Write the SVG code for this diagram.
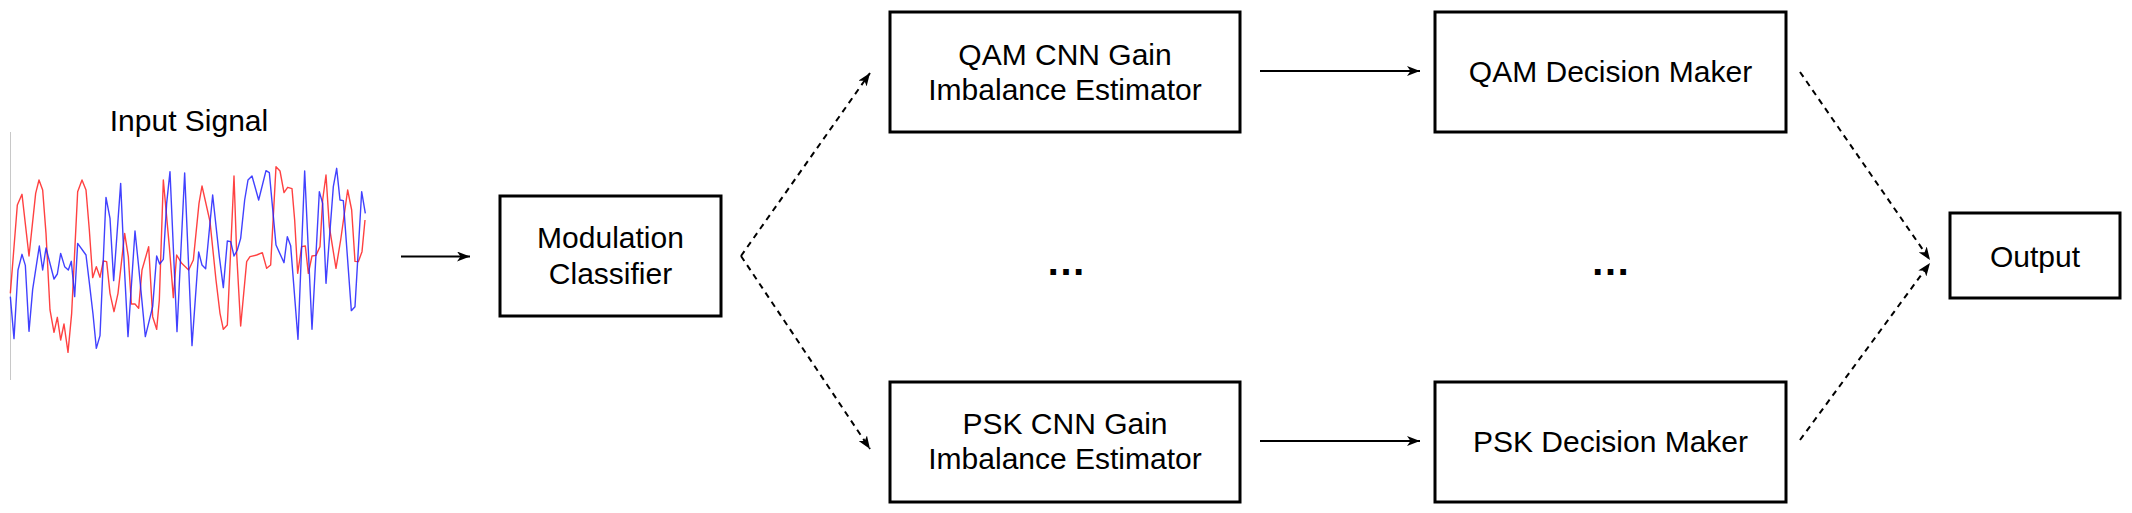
<svg xmlns="http://www.w3.org/2000/svg" width="2132" height="513" viewBox="0 0 2132 513">
<style>
.box{fill:#fff;stroke:#000;stroke-width:3}
.t{font-family:"Liberation Sans",Arial,sans-serif;font-size:30px;fill:#000;text-anchor:middle}
.el{font-family:"Liberation Sans",Arial,sans-serif;font-size:40px;font-weight:bold;fill:#000;text-anchor:middle}
.solid{fill:none;stroke:#000;stroke-width:2}
.dash{fill:none;stroke:#000;stroke-width:2;stroke-dasharray:6 5}
.sig{fill:none;stroke-width:1.4;stroke-linejoin:round;vector-effect:non-scaling-stroke}
</style>
<defs>
<marker id="arr" markerUnits="userSpaceOnUse" markerWidth="14" markerHeight="10" refX="13" refY="5" orient="auto">
<path d="M0,0 L13,5 L0,10 L3.5,5 Z" fill="#000"/>
</marker>
</defs>
<rect width="2132" height="513" fill="#fff"/>
<g id="input-signal">
<text class="t" x="189" y="131">Input Signal</text>
<line x1="10.5" y1="132" x2="10.5" y2="380" stroke="#c8c8c8" stroke-width="1"/>
<g transform="translate(0,100) scale(0.33333)">
<polyline class="sig" stroke="#ff2020" stroke-opacity="0.85" points="31,580 52,315 66,283 87,468 107,280 117,240 128,270 138,400 150,630 162,697 172,652 182,720 192,672 204,757 215,640 233,275 246,240 258,270 268,390 278,533 289,500 300,532 310,483 320,485 330,580 342,635 354,580 374,400 385,470 394,612 405,612 416,625 426,510 446,440 458,650 470,688 478,600 490,240 508,440 520,593 530,465 545,490 566,510 580,480 597,310 606,258 630,365 648,540 660,640 670,688 682,675 702,228 710,460 722,678 740,485 750,470 770,465 787,458 800,505 812,495 828,200 840,213 852,278 863,262 876,266 884,360 893,520 905,440 916,438 925,520 936,468 948,466 960,440 968,300 978,225 988,380 1008,505 1022,420 1043,270 1055,330 1065,484 1075,485 1086,455 1095,360"/>
<polyline class="sig" stroke="#2020ff" stroke-opacity="0.85" points="31,590 42,716 54,510 66,463 76,496 87,694 98,568 118,438 128,510 138,444 162,537 172,522 182,460 194,500 205,510 214,484 224,590 233,430 258,465 268,548 279,642 289,745 300,707 318,292 330,355 341,542 362,250 373,500 384,710 405,393 416,500 436,710 458,620 470,468 479,492 490,478 500,310 510,215 531,695 554,219 576,737 596,456 606,495 617,506 638,285 658,470 670,563 682,423 692,425 702,468 712,450 722,415 734,300 744,240 756,228 776,300 798,212 808,218 828,435 852,488 862,410 872,437 894,718 914,213 936,688 958,275 968,310 978,550 1000,260 1010,205 1020,300 1030,302 1054,632 1065,620 1085,275 1096,340"/>
</g>
</g>
<g id="modulation-classifier">
<rect class="box" x="500" y="196" width="221" height="120"/>
<text class="t" x="610.5" y="248">Modulation</text>
<text class="t" x="610.5" y="284">Classifier</text>
</g>
<g id="qam-cnn">
<rect class="box" x="890" y="12" width="350" height="120"/>
<text class="t" x="1065" y="65">QAM CNN Gain</text>
<text class="t" x="1065" y="100">Imbalance Estimator</text>
</g>
<g id="psk-cnn">
<rect class="box" x="890" y="382" width="350" height="120"/>
<text class="t" x="1065" y="434">PSK CNN Gain</text>
<text class="t" x="1065" y="469">Imbalance Estimator</text>
</g>
<g id="qam-decision">
<rect class="box" x="1435" y="12" width="351" height="120"/>
<text class="t" x="1610.5" y="82">QAM Decision Maker</text>
</g>
<g id="psk-decision">
<rect class="box" x="1435" y="382" width="351" height="120"/>
<text class="t" x="1610.5" y="452">PSK Decision Maker</text>
</g>
<g id="output">
<rect class="box" x="1950" y="213" width="170" height="85" stroke="#222"/>
<text class="t" x="2035" y="267">Output</text>
</g>
<g id="ellipsis-cnn"><text class="el" x="1066" y="275">…</text></g>
<g id="ellipsis-decision"><text class="el" x="1610.5" y="275">…</text></g>
<g id="connectors">
<line class="solid" x1="401" y1="256.5" x2="470" y2="256.5" marker-end="url(#arr)"/>
<line class="dash" x1="741" y1="256" x2="870" y2="73" marker-end="url(#arr)"/>
<line class="dash" x1="741" y1="256" x2="870" y2="449" marker-end="url(#arr)"/>
<line class="solid" x1="1260" y1="71" x2="1420" y2="71" marker-end="url(#arr)"/>
<line class="solid" x1="1260" y1="441" x2="1420" y2="441" marker-end="url(#arr)"/>
<line class="dash" x1="1800" y1="72" x2="1930" y2="260" marker-end="url(#arr)"/>
<line class="dash" x1="1800" y1="440" x2="1930" y2="263" marker-end="url(#arr)"/>
</g>
</svg>
